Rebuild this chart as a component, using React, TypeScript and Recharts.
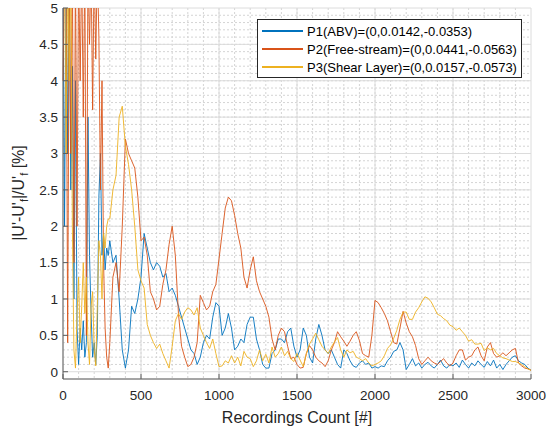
import { LineChart, Line, XAxis, YAxis, CartesianGrid } from 'recharts';

// recording index of each sample (denser at the start where the signal swings fast)
const recordings = [
  0, 10, 20, 30, 40, 50, 60, 70, 80, 90,
  100, 110, 120, 130, 140, 150, 160, 170, 180, 190,
  200, 210, 220, 230, 240, 250, 260, 270, 280, 290,
  300, 320, 340, 360, 380, 400, 420, 440, 460, 480,
  500, 520, 540, 560, 580, 600, 620, 640, 660, 680,
  700, 720, 740, 760, 780, 800, 820, 840, 860, 880,
  900, 920, 940, 960, 980, 1000, 1020, 1040, 1060, 1080,
  1100, 1120, 1140, 1160, 1180, 1200, 1220, 1240, 1260, 1280,
  1300, 1320, 1340, 1360, 1380, 1400, 1420, 1440, 1460, 1480,
  1500, 1520, 1540, 1560, 1580, 1600, 1620, 1640, 1660, 1680,
  1700, 1720, 1740, 1760, 1780, 1800, 1820, 1840, 1860, 1880,
  1900, 1920, 1940, 1960, 1980, 2000, 2020, 2040, 2060, 2080,
  2100, 2120, 2140, 2160, 2180, 2200, 2220, 2240, 2260, 2280,
  2300, 2320, 2340, 2360, 2380, 2400, 2420, 2440, 2460, 2480,
  2500, 2520, 2540, 2560, 2580, 2600, 2620, 2640, 2660, 2680,
  2700, 2720, 2740, 2760, 2780, 2800, 2820, 2840, 2860, 2880,
  2900, 2920, 2940, 2960, 2980, 3000,
];

const p1Abv = [
  5.6, 2.0, 5.6, 3.0, 5.6, 2.5, 4.2, 1.0, 4.0, 0.6,
  0.1, 0.6, 0.3, 0.7, 0.2, 0.4, 3.5, 1.6, 0.8, 0.2,
  0.4, 0.1, 0.5, 2.4, 3.0, 1.6, 1.9, 1.4, 1.7, 1.6,
  1.8, 1.5, 1.6, 1.0, 0.3, 0.05, 0.3, 0.9, 0.8, 1.0,
  1.3, 1.9, 1.7, 1.5, 1.4, 1.5, 1.45, 1.3, 1.35, 1.1,
  1.15, 1.05, 0.9, 0.75, 0.6, 0.45, 0.3, 0.25, 0.1, 0.2,
  0.4, 0.5, 0.45, 0.75, 0.95, 0.9, 0.5, 0.6, 0.8, 0.6,
  0.3, 0.35, 0.45, 0.4, 0.65, 0.75, 0.75, 0.45, 0.3, 0.1,
  0.05, 0.05, 0.25, 0.3, 0.45, 0.45, 0.4, 0.55, 0.6, 0.35,
  0.2, 0.3, 0.6, 0.5, 0.2, 0.12, 0.45, 0.65, 0.5, 0.3,
  0.25, 0.3, 0.2, 0.1, 0.05, 0.3, 0.25, 0.15, 0.08, 0.06,
  0.12, 0.15, 0.1, 0.12, 0.05, 0.07, 0.05, 0.08, 0.07, 0.15,
  0.2, 0.28, 0.3, 0.4, 0.3, 0.03, 0.1, 0.18, 0.08, 0.12,
  0.05, 0.1, 0.13, 0.08, 0.05, 0.1, 0.16, 0.08, 0.05, 0.1,
  0.08, 0.12, 0.06, 0.16, 0.1, 0.05, 0.12, 0.08, 0.15, 0.1,
  0.06, 0.14, 0.08, 0.16, 0.05, 0.1, 0.03, 0.1, 0.15, 0.2,
  0.22, 0.15, 0.12, 0.1, 0.05, 0.02,
];

const p2FreeStream = [
  4.0, 5.6, 5.6, 0.4, 5.6, 3.0, 5.6, 1.5, 5.6, 2.0,
  5.6, 4.0, 5.6, 3.5, 5.6, 0.5, 5.6, 4.5, 5.6, 3.6,
  5.6, 4.3, 5.6, 4.6, 2.5, 4.0, 1.5, 0.6, 0.2, 0.05,
  0.4, 1.3, 1.5, 1.1, 2.0, 3.2, 3.0, 2.9, 2.8, 2.4,
  1.8, 1.85, 1.6, 1.1, 1.0, 0.85, 0.9, 1.2, 1.4, 1.75,
  2.0, 1.6, 0.8, 0.35, 0.2, 0.07, 0.1, 0.2, 0.4, 1.05,
  0.95, 0.85, 0.9, 1.1, 1.2, 1.55, 1.9, 2.25, 2.4, 2.35,
  2.15, 1.9, 1.7, 1.3, 1.15, 1.4, 1.58, 1.25, 1.1, 1.0,
  0.9, 0.75, 0.45, 0.3, 0.5, 0.6, 0.55, 0.35, 0.18, 0.2,
  0.1, 0.05, 0.06, 0.25, 0.36, 0.3, 0.2, 0.15, 0.12, 0.07,
  0.15, 0.3, 0.4, 0.55, 0.48, 0.42, 0.35, 0.42, 0.5, 0.55,
  0.43, 0.25, 0.22, 0.2, 0.5, 0.98, 0.95, 0.88, 0.8, 0.7,
  0.55, 0.4, 0.38, 0.6, 0.83, 0.67, 0.55, 0.48, 0.36, 0.18,
  0.1, 0.15, 0.2, 0.15, 0.12, 0.1, 0.14, 0.18, 0.12, 0.08,
  0.12, 0.22, 0.3, 0.3, 0.16, 0.2, 0.22, 0.3, 0.34, 0.22,
  0.15, 0.34, 0.4, 0.25, 0.2, 0.22, 0.26, 0.22, 0.26, 0.3,
  0.32, 0.12, 0.08, 0.05, 0.04, 0.02,
];

const p3ShearLayer = [
  5.6, 5.6, 3.0, 5.6, 4.0, 5.6, 2.0, 0.3, 0.05, 0.8,
  1.3, 0.4, 0.9, 1.5, 0.8, 1.3, 0.4, 0.1, 0.9, 1.1,
  0.3, 0.08, 0.9, 1.8, 1.6, 1.0, 1.9, 1.7, 2.0, 2.1,
  2.1, 2.5, 2.7, 3.5, 3.65, 3.1, 2.85, 2.5, 2.0, 1.4,
  1.25, 1.15, 0.65, 0.5, 0.4, 0.32, 0.38, 0.25, 0.15, 0.05,
  0.35, 0.7, 0.8, 0.72, 0.82, 0.88, 0.85, 0.78, 0.88, 0.6,
  0.5, 0.4, 0.32, 0.45, 0.25, 0.07, 0.08, 0.15, 0.12, 0.22,
  0.12, 0.2, 0.08, 0.28, 0.2, 0.18, 0.07, 0.15, 0.3, 0.15,
  0.24, 0.12, 0.34, 0.2, 0.25, 0.34, 0.22, 0.28, 0.18, 0.14,
  0.25, 0.16, 0.07, 0.25, 0.38, 0.45, 0.53, 0.44, 0.35, 0.3,
  0.25, 0.34, 0.41, 0.47, 0.3, 0.2, 0.3, 0.26, 0.28, 0.2,
  0.18, 0.15, 0.18, 0.12, 0.08, 0.1, 0.12, 0.15, 0.22, 0.32,
  0.37, 0.46, 0.57, 0.72, 0.82, 0.82, 0.72, 0.72, 0.82, 0.88,
  0.96, 1.03, 1.01, 0.96, 0.88, 0.79, 0.77, 0.73, 0.7, 0.64,
  0.62, 0.57, 0.6, 0.55, 0.5, 0.42, 0.44, 0.38, 0.38, 0.39,
  0.29, 0.33, 0.3, 0.32, 0.25, 0.22, 0.19, 0.18, 0.16, 0.14,
  0.14, 0.12, 0.1, 0.07, 0.04, 0.02,
];

const X_DOMAIN = [0, 3000];
const Y_DOMAIN = [-0.1, 5];
const xTicks = [0, 500, 1000, 1500, 2000, 2500, 3000];
const yTicks = [0, 0.5, 1, 1.5, 2, 2.5, 3, 3.5, 4, 4.5, 5];
const xMinor = Array.from({ length: 29 }, (_, i) => (i + 1) * 100);
const yMinor = Array.from({ length: 49 }, (_, i) => (i + 1) / 10);

const SERIES = [
  { key: 'p1', name: 'P1(ABV)=(0,0.0142,-0.0353)', color: '#0072BD' },
  { key: 'p2', name: 'P2(Free-stream)=(0,0.0441,-0.0563)', color: '#D95319' },
  { key: 'p3', name: 'P3(Shear Layer)=(0,0.0157,-0.0573)', color: '#EDB120' },
];

const data = recordings.map((r, i) => ({
  r,
  p1: p1Abv[i],
  p2: p2FreeStream[i],
  p3: p3ShearLayer[i],
}));

const FONT = '"Liberation Sans", Arial, Helvetica, sans-serif';
const AXIS = '#5e5e5e';

// minor grid positions, mapped through the same linear domains as the axes
const minorX = ({ offset }: any) =>
  xMinor.map(v => offset.left + ((v - X_DOMAIN[0]) / (X_DOMAIN[1] - X_DOMAIN[0])) * offset.width);
const minorY = ({ offset }: any) =>
  yMinor.map(v => offset.top + ((Y_DOMAIN[1] - v) / (Y_DOMAIN[1] - Y_DOMAIN[0])) * offset.height);

function YLabel() {
  return (
    <text
      transform="translate(24,193) rotate(-90)"
      textAnchor="middle"
      fontSize={16}
      fontFamily={FONT}
      fill="#262626"
    >
      <tspan>|U'-U'</tspan>
      <tspan fontSize={11} dy={4}>f</tspan>
      <tspan dy={-4}>|/U'</tspan>
      <tspan fontSize={11} dy={4}>f</tspan>
      <tspan dy={-4}> [%]</tspan>
    </text>
  );
}

function LegendBox() {
  return (
    <div
      style={{
        position: 'absolute',
        left: 257,
        top: 19,
        width: 263,
        height: 55,
        background: '#fff',
        border: '1px solid #262626',
        fontFamily: FONT,
        fontSize: 13,
        color: '#000',
        paddingTop: 2,
        boxSizing: 'content-box',
      }}
    >
      {SERIES.map(s => (
        <div key={s.key} style={{ display: 'flex', alignItems: 'center', height: 18 }}>
          <div style={{ width: 41, height: 1.5, background: s.color, marginLeft: 4, marginRight: 4 }} />
          <span style={{ whiteSpace: 'nowrap' }}>{s.name}</span>
        </div>
      ))}
    </div>
  );
}

export default function App() {
  return (
    <div style={{ position: 'absolute', left: 0, top: 0, width: 547, height: 429, background: '#fff' }}>
      <LineChart width={547} height={429} data={data} margin={{ top: 8, right: 16, left: 0, bottom: 0 }}>
        <CartesianGrid
          stroke="#d4d4d4"
          strokeDasharray="2 2"
          verticalCoordinatesGenerator={minorX}
          horizontalCoordinatesGenerator={minorY}
        />
        <CartesianGrid stroke="#dcdcdc" />
        <XAxis
          dataKey="r"
          type="number"
          domain={X_DOMAIN}
          ticks={xTicks}
          height={50}
          tickSize={-5}
          tickMargin={16}
          stroke={AXIS}
          tick={{ fill: '#262626', fontSize: 13.5, fontFamily: FONT }}
          label={{ value: 'Recordings Count [#]', position: 'insideBottom', offset: 6, fill: '#262626', fontSize: 16, fontFamily: FONT }}
        />
        <XAxis
          xAxisId="top"
          orientation="top"
          type="number"
          domain={X_DOMAIN}
          ticks={xTicks}
          height={0}
          tickSize={-5}
          tick={false}
          stroke={AXIS}
        />
        <YAxis
          type="number"
          domain={Y_DOMAIN}
          allowDataOverflow
          ticks={yTicks}
          width={63}
          tickSize={-5}
          tickMargin={10}
          stroke={AXIS}
          tick={{ fill: '#262626', fontSize: 13.5, fontFamily: FONT }}
          label={{ content: () => <YLabel /> }}
        />
        <YAxis
          yAxisId="right"
          orientation="right"
          type="number"
          domain={Y_DOMAIN}
          allowDataOverflow
          ticks={yTicks}
          width={0}
          tickSize={-5}
          tick={false}
          stroke={AXIS}
        />
        {SERIES.map(s => (
          <Line
            key={s.key}
            type="linear"
            dataKey={s.key}
            name={s.name}
            stroke={s.color}
            strokeWidth={0.9}
            dot={false}
            isAnimationActive={false}
          />
        ))}
      </LineChart>
      <LegendBox />
    </div>
  );
}
